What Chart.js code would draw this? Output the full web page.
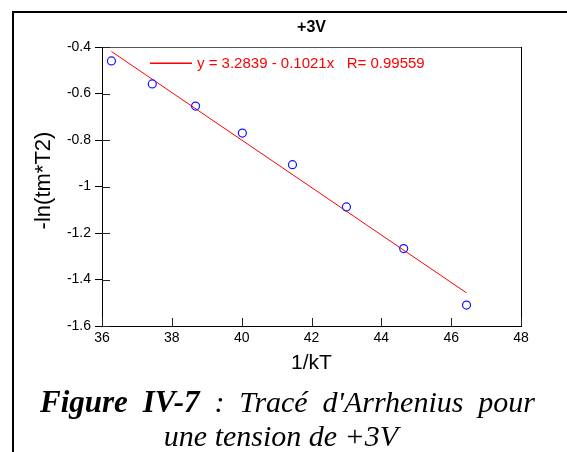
<!DOCTYPE html>
<html>
<head>
<meta charset="utf-8">
<script src="https://cdn.jsdelivr.net/npm/chart.js@4/dist/chart.umd.min.js"></script>
<style>
  html, body { margin: 0; padding: 0; background: #fff; overflow: hidden; }
  #wrap { position: relative; width: 567px; height: 452px; }
</style>
</head>
<body>
<div id="wrap"><canvas id="c" width="567" height="452"></canvas></div>
<script>
// Arrhenius data at +3V
const invKT = [36.27, 37.44, 38.68, 40.02, 41.455, 43.0, 44.64, 46.44];
const lnTmT2 = [-0.46, -0.559, -0.654, -0.770, -0.906, -1.088, -1.267, -1.51];

// Linear fit reported on the plot
const fitIntercept = 3.2839;
const fitSlope = -0.1021;
const fitR = 0.99559;

const xTicks = [36, 38, 40, 42, 44, 46, 48];
const yTicks = [-0.4, -0.6, -0.8, -1, -1.2, -1.4, -1.6];

const chartTitle = '+3V';
const xTitle = '1/kT';
const yTitle = '-ln(tm*T2)';
const captionBold = 'Figure IV-7';
const captionRest = " : Tracé d'Arrhenius pour";
const captionLine2 = 'une tension de +3V';

const SANS = "'Liberation Sans', Arial, sans-serif";
const SERIF = "'Liberation Serif', 'Times New Roman', serif";
const FIT_COLOR = '#ff0000';
const POINT_COLOR = '#1515ff';

const points = invKT.map((x, i) => ({ x: x, y: lnTmT2[i] }));
const fitX = [invKT[0], invKT[invKT.length - 1]];
const fitPoints = fitX.map(x => ({ x: x, y: fitIntercept + fitSlope * x }));
const fitLabel = 'y = ' + fitIntercept.toFixed(4) + ' - ' + Math.abs(fitSlope).toFixed(4) + 'x   R= ' + fitR.toFixed(5);

// Frame, inner ticks, titles, legend and caption
const decor = {
  id: 'decor',
  afterDraw(chart) {
    const ctx = chart.ctx;
    const a = chart.chartArea;
    const xs = chart.scales.x, ys = chart.scales.y;
    ctx.save();

    // top and right edges of the plot box
    ctx.lineWidth = 1;
    ctx.strokeStyle = '#555';
    ctx.beginPath();
    ctx.moveTo(a.left, a.top + 0.5);
    ctx.lineTo(a.right + 0.5, a.top + 0.5);
    ctx.stroke();
    ctx.strokeStyle = '#000';
    ctx.beginPath();
    ctx.moveTo(a.right + 0.5, a.top);
    ctx.lineTo(a.right + 0.5, a.bottom);
    ctx.stroke();

    // inward tick marks
    ctx.strokeStyle = '#222';
    ctx.beginPath();
    yTicks.forEach(v => {
      const py = Math.round(ys.getPixelForValue(v)) + 0.5;
      ctx.moveTo(a.left, py);
      ctx.lineTo(a.left + 8, py);
    });
    xTicks.forEach(v => {
      const px = Math.round(xs.getPixelForValue(v)) + 0.5;
      ctx.moveTo(px, a.bottom);
      ctx.lineTo(px, a.bottom - 8);
    });
    ctx.stroke();

    // chart title
    ctx.fillStyle = '#000';
    ctx.font = 'bold 16px ' + SANS;
    ctx.textAlign = 'center';
    ctx.textBaseline = 'middle';
    ctx.fillText(chartTitle, (a.left + a.right) / 2, 28);

    // y axis title
    ctx.save();
    ctx.translate(43.5, 180.5);
    ctx.rotate(-Math.PI / 2);
    ctx.font = '22px ' + SANS;
    ctx.fillText(yTitle, 0, 0);
    ctx.restore();

    // fit legend inside the plot
    const ly = a.top + 16.3;
    ctx.lineWidth = 1.4;
    ctx.strokeStyle = FIT_COLOR;
    ctx.beginPath();
    ctx.moveTo(a.left + 48, ly);
    ctx.lineTo(a.left + 90, ly);
    ctx.stroke();
    ctx.fillStyle = FIT_COLOR;
    ctx.font = '15px ' + SANS;
    ctx.textAlign = 'left';
    ctx.fillText(chart.data.datasets[1].label, a.left + 95, a.top + 16.5);

    // table cell frame
    ctx.fillStyle = '#000';
    ctx.fillRect(12, 11, 555, 2);
    ctx.fillRect(12, 11, 2, 441);

    // caption: first line justified between the cell margins, last line centred
    const size = 30;
    const boldFont = 'italic bold 31px ' + SERIF;
    const itFont = 'italic ' + size + 'px ' + SERIF;
    const words = [];
    captionBold.split(' ').forEach(w => words.push({ t: w, f: boldFont }));
    captionRest.trim().split(' ').forEach(w => words.push({ t: w, f: itFont }));
    let total = 0;
    words.forEach(w => { ctx.font = w.f; w.w = ctx.measureText(w.t).width; total += w.w; });
    const x1 = 40, x2 = 535;
    const gap = (x2 - x1 - total) / (words.length - 1);
    ctx.textBaseline = 'alphabetic';
    ctx.textAlign = 'left';
    let xx = x1;
    words.forEach(w => { ctx.font = w.f; ctx.fillText(w.t, xx, 412); xx += w.w + gap; });
    ctx.font = itFont;
    ctx.textAlign = 'center';
    ctx.fillText(captionLine2, 281, 446);

    ctx.restore();
  }
};

new Chart(document.getElementById('c'), {
  data: {
    datasets: [
      {
        type: 'scatter',
        label: yTitle,
        data: points,
        borderColor: POINT_COLOR,
        backgroundColor: 'rgba(0,0,0,0)',
        borderWidth: 1.2,
        pointRadius: 4,
        pointHoverRadius: 4,
        order: 0
      },
      {
        type: 'line',
        label: fitLabel,
        data: fitPoints,
        borderColor: FIT_COLOR,
        borderWidth: 1,
        pointRadius: 0,
        fill: false,
        order: 1
      }
    ]
  },
  options: {
    responsive: false,
    animation: false,
    devicePixelRatio: 1,
    layout: { padding: { top: 47, right: 46, bottom: 76, left: 0 } },
    plugins: { legend: { display: false }, tooltip: { enabled: false }, title: { display: false } },
    scales: {
      x: {
        type: 'linear',
        min: 36, max: 48,
        afterBuildTicks: s => { s.ticks = xTicks.map(v => ({ value: v })); },
        afterFit: s => { s.height = 50; },
        ticks: { color: '#000', padding: 4, font: { family: SANS, size: 14 }, callback: v => String(v) },
        grid: { drawOnChartArea: false, drawTicks: false, color: '#000' },
        border: { display: true, color: '#000', width: 1 },
        title: { display: true, text: xTitle, color: '#000', font: { family: SANS, size: 21 }, padding: { top: 0, bottom: 0 } }
      },
      y: {
        type: 'linear',
        min: -1.6, max: -0.4,
        afterBuildTicks: s => { s.ticks = yTicks.map(v => ({ value: v })); },
        afterFit: s => { s.width = 102; },
        ticks: { color: '#000', padding: 4, font: { family: SANS, size: 14 }, callback: v => String(Math.round(v * 10) / 10) },
        grid: { drawOnChartArea: false, drawTicks: true, tickLength: 7, color: '#000' },
        border: { display: true, color: '#000', width: 1 },
        title: { display: false }
      }
    }
  },
  plugins: [decor]
});
</script>
</body>
</html>
